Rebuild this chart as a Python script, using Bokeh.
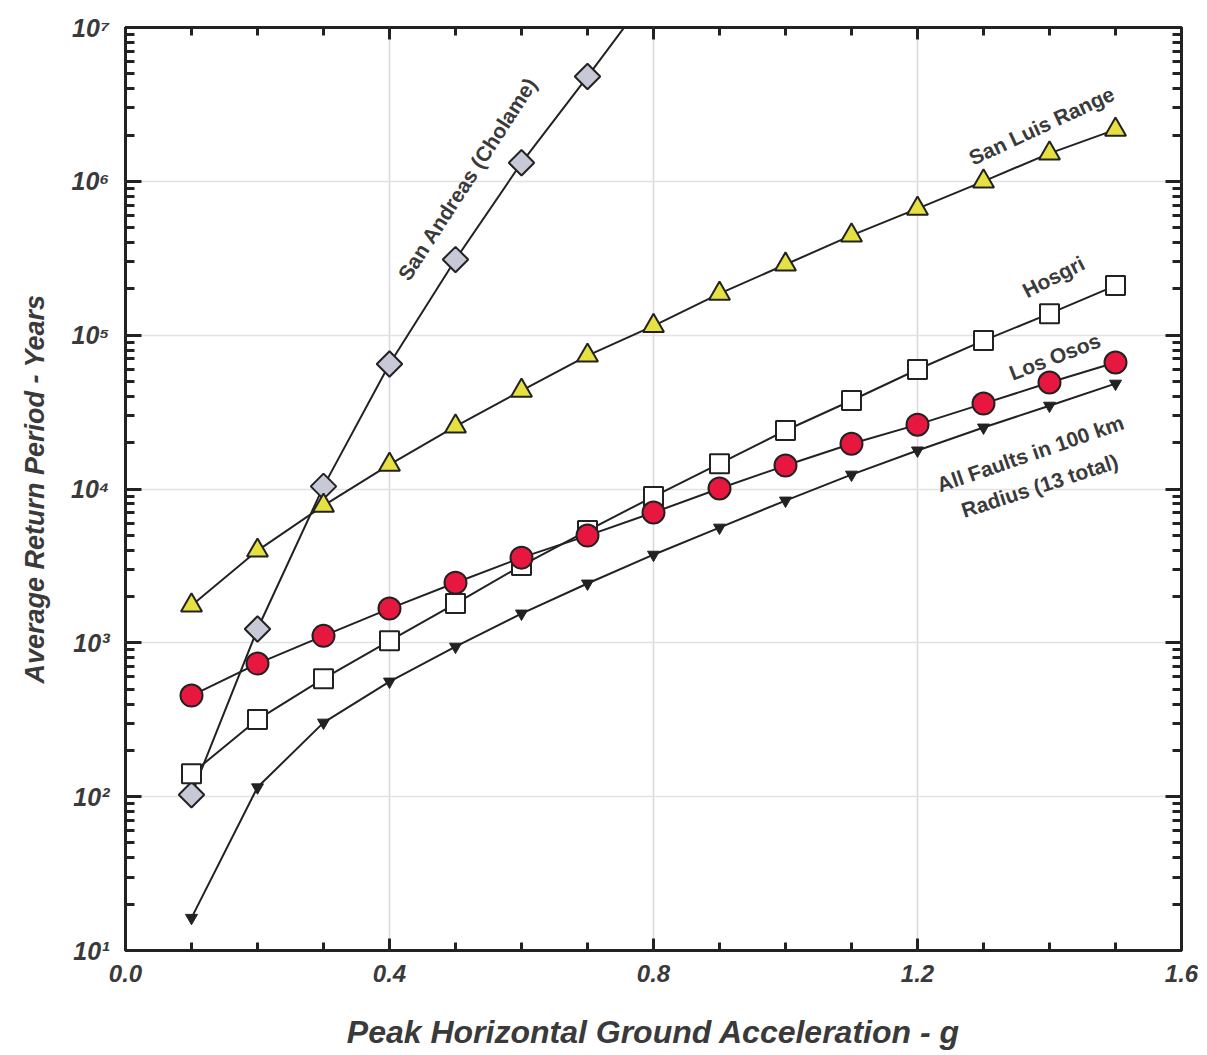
from bokeh.plotting import figure
from bokeh.models import Range1d, FixedTicker, LinearAxis, LogAxis, CustomJSTickFormatter, Label
from bokeh.embed import file_html
from bokeh.resources import INLINE
import math

pga = [0.1, 0.2, 0.3, 0.4, 0.5, 0.6, 0.7, 0.8, 0.9, 1.0, 1.1, 1.2, 1.3, 1.4, 1.5]

san_andreas_x = [0.1, 0.2, 0.3, 0.4, 0.5, 0.6, 0.7, 0.8]
san_andreas = [103, 1230, 10400, 65000, 310000, 1.32e6, 4.8e6, 1.8e7]

san_luis = [1750, 3980, 7800, 14400, 25500, 43600, 73700, 115000, 186000,
            288000, 445000, 665000, 1.0e6, 1.52e6, 2.17e6]

hosgri = [141, 317, 585, 1030, 1800, 3180, 5370, 8930, 14600, 24000,
          37600, 59800, 92200, 138000, 210000]

los_osos = [454, 733, 1110, 1670, 2460, 3580, 4980, 7030, 10070, 14200,
            19700, 26200, 35900, 49200, 66400]

all_faults = [16.3, 115, 303, 560, 944, 1550, 2430, 3740, 5610, 8410,
              12400, 17800, 25100, 34800, 48400]

x_major = [0.0, 0.4, 0.8, 1.2, 1.6]
x_minor = [0.1, 0.2, 0.3, 0.5, 0.6, 0.7, 0.9, 1.0, 1.1, 1.3, 1.4, 1.5]
y_major = [1e1, 1e2, 1e3, 1e4, 1e5, 1e6, 1e7]
y_minor = [k * 10 ** n for n in range(1, 7) for k in range(2, 10)]

FONT = "Liberation Sans"
DARK = "#222222"
TXT = "#3a3a3a"

p = figure(width=1198, height=1052, x_range=Range1d(0, 1.6), y_range=Range1d(10, 1e7),
           y_axis_type="log", output_backend="svg", toolbar_location=None,
           min_border_left=125, min_border_top=27, min_border_right=17, min_border_bottom=102)

p.outline_line_color = DARK
p.outline_line_width = 3
p.background_fill_color = "white"
p.border_fill_color = "white"

sup = CustomJSTickFormatter(code="""
const s = {'0':'\u2070','1':'\u00b9','2':'\u00b2','3':'\u00b3','4':'\u2074','5':'\u2075','6':'\u2076','7':'\u2077','8':'\u2078','9':'\u2079'};
const e = String(Math.round(Math.log10(tick)));
return '10' + e.split('').map(c => s[c]).join('');
""")
fix1 = CustomJSTickFormatter(code="return tick.toFixed(1);")

xt = FixedTicker(ticks=x_major, minor_ticks=x_minor)
yt = FixedTicker(ticks=y_major, minor_ticks=y_minor)

def style(ax, labels=True, major_len=12, minor_len=7, size="24px"):
    ax.axis_line_color = None
    ax.major_tick_in = major_len
    ax.major_tick_out = 0
    ax.minor_tick_in = minor_len
    ax.minor_tick_out = 0
    ax.major_tick_line_color = DARK
    ax.major_tick_line_width = 3
    ax.minor_tick_line_color = DARK
    ax.minor_tick_line_width = 3
    if labels:
        ax.major_label_text_font = FONT
        ax.major_label_text_font_style = "bold italic"
        ax.major_label_text_color = TXT
        ax.major_label_text_font_size = size
    else:
        ax.major_label_text_font_size = "0px"
        ax.major_label_text_color = None

xa = p.xaxis[0]
xa.ticker = xt
xa.formatter = fix1
style(xa, major_len=12, minor_len=8, size="24px")
xa.major_label_standoff = 14
xa.axis_label = "Peak Horizontal Ground Acceleration - g"
xa.axis_label_text_font = FONT
xa.axis_label_text_font_style = "bold italic"
xa.axis_label_text_font_size = "32px"
xa.axis_label_text_color = TXT
xa.axis_label_standoff = 29

ya = p.yaxis[0]
ya.ticker = yt
ya.formatter = sup
style(ya, major_len=16, minor_len=9, size="25px")
ya.major_label_standoff = 16
ya.axis_label = "Average Return Period - Years"
ya.axis_label_text_font = FONT
ya.axis_label_text_font_style = "bold italic"
ya.axis_label_text_font_size = "27px"
ya.axis_label_text_color = TXT
ya.axis_label_standoff = 18

top = LinearAxis(ticker=xt)
style(top, labels=False, major_len=12, minor_len=8)
p.add_layout(top, "above")
right = LogAxis(ticker=yt)
style(right, labels=False, major_len=16, minor_len=9)
p.add_layout(right, "right")

p.xgrid.ticker = xt
p.ygrid.ticker = yt
p.xgrid.grid_line_color = "#d8d8de"
p.ygrid.grid_line_color = "#e2e2e2"
p.xgrid.grid_line_width = 1.5
p.ygrid.grid_line_width = 1.5

LW = 2

# San Andreas (Cholame)
p.line(san_andreas_x, san_andreas, line_color=DARK, line_width=LW)
p.scatter(san_andreas_x, san_andreas, marker="square", angle=math.pi / 4, size=18,
          fill_color="#c7cad6", line_color=DARK, line_width=2)

# San Luis Range
p.line(pga, san_luis, line_color=DARK, line_width=LW)
p.scatter(pga, san_luis, marker="triangle", size=21, fill_color="#e6e040",
          line_color=DARK, line_width=2)

# Hosgri
p.line(pga, hosgri, line_color=DARK, line_width=LW)
p.scatter(pga, hosgri, marker="square", size=19, fill_color="white",
          line_color=DARK, line_width=2)

# Los Osos
p.line(pga, los_osos, line_color=DARK, line_width=LW)
p.scatter(pga, los_osos, marker="circle", size=22, fill_color="#e8173f",
          line_color=DARK, line_width=2)

# All faults
p.line(pga, all_faults, line_color=DARK, line_width=LW)
p.scatter(pga, all_faults, marker="inverted_triangle", size=12, fill_color=DARK,
          line_color=DARK, line_width=1)

def lab(x, y, t, ang):
    p.add_layout(Label(x=x, y=y, text=t, angle=ang, angle_units="deg",
                       text_align="center", text_baseline="middle",
                       text_font=FONT, text_font_style="bold", text_font_size="21px",
                       text_color=TXT))

lab(0.518, 1.04e6, "San Andreas (Cholame)", 57)
lab(1.388, 2.3e6, "San Luis Range", 25)
lab(1.406, 2.4e5, "Hosgri", 27)
lab(1.408, 7.26e4, "Los Osos", 21)
lab(1.371, 1.7e4, "All Faults in 100 km", 19)
lab(1.385, 1.05e4, "Radius (13 total)", 18)

open("out.html", "w").write(file_html(p, INLINE))
